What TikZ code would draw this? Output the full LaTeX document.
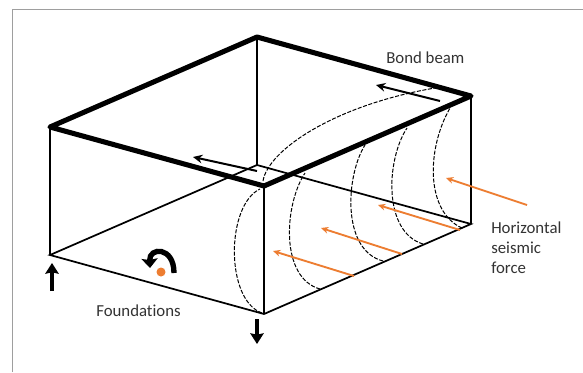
\documentclass[tikz,border=0pt]{standalone}
\usepackage{fontspec}
\setmainfont[Ligatures=CommonOff]{Carlito}
\usetikzlibrary{arrows.meta}
\definecolor{orangeF}{HTML}{ED7D31}
\tikzset{
  x=0.75pt,y=-0.75pt,
  wall/.style={black,line width=1.3pt},
  beam/.style={black,line width=3.8pt,line join=round},
  crack/.style={black,line width=0.75pt,dash pattern=on 3pt off 1.2pt},
  motion/.style={black,line width=1.5pt,-{Stealth[length=7pt,width=6.5pt]}},
  force/.style={orangeF,line width=1.4pt,-{Stealth[length=5.5pt,width=5pt]}},
  lift/.style={black,line width=3pt,-{Stealth[length=8pt,width=10pt,inset=1pt]}},
  lbl/.style={font=\fontsize{12.6pt}{15pt}\selectfont,text=black!80,inner sep=0pt,align=left,anchor=west}
}
\begin{document}
\begin{tikzpicture}
\useasboundingbox (0,0) rectangle (583,372);
\fill[white] (0,0) rectangle (583,372);
\draw[black!38,line width=1pt] (12.5,372) -- (12.5,9.5) -- (583,9.5);
\coordinate (tl) at (50,127); \coordinate (tb) at (257,37);
\coordinate (tr) at (471,96); \coordinate (tf) at (264,186);
\coordinate (bl) at (50,255); \coordinate (bb) at (257,165);
\coordinate (br) at (471,224); \coordinate (bf) at (264,314);
% walls
\draw[wall] (tl)--(bl) (tb)--(bb) (tr)--(br) (tf)--(bf);
\draw[wall] (bl)--(bb)--(br)--(bf)--cycle;
% cracks
\draw[crack] (262,313) .. controls (225,300) and (226,205) .. (260,189);
\draw[crack] (263,181) .. controls (268,150) and (335,105) .. (435,88);
\draw[crack] (320,289) .. controls (280,278) and (284,205) .. (305,173);
\draw[crack] (383,261) .. controls (341,250) and (346,175) .. (365,145);
\draw[crack] (423,244) .. controls (383,232) and (386,160) .. (407,128);
\draw[crack] (462,228) .. controls (426,212) and (426,150) .. (450,108);
% beam
\draw[beam] (tl)--(tb)--(tr)--(tf)--cycle;
% motion arrows
\coordinate (m1s) at (440,101); \coordinate (m1e) at (376,85);
\coordinate (m2s) at (257,171); \coordinate (m2e) at (193,157);
\draw[motion] (m1s)--(m1e);
\draw[motion] (m2s)--(m2e);
% seismic arrows
\coordinate (f1s) at (527,205); \coordinate (f1e) at (446,178);
\coordinate (f2s) at (460,230); \coordinate (f2e) at (378,205);
\coordinate (f3s) at (402,254); \coordinate (f3e) at (321,228);
\coordinate (f4s) at (354,276); \coordinate (f4e) at (273,251);
\draw[force] (f1s)--(f1e);
\draw[force] (f2s)--(f2e);
\draw[force] (f3s)--(f3e);
\draw[force] (f4s)--(f4e);
% vertical arrows
\coordinate (u1) at (52,291); \coordinate (u2) at (52,263);
\coordinate (d1) at (257,319); \coordinate (d2) at (257,344);
\draw[lift] (u1)--(u2);
\draw[lift] (d1)--(d2);
% rotation
\fill[orangeF] (161,272) circle (4.5);
\draw[black,line width=4pt,-{Stealth[length=7pt,width=12pt,inset=1pt]}] (174,273) .. controls (174,246) and (149,247) .. (150,268);
% labels
\node[lbl] (bond) at (386,58) {Bond beam};
\node[lbl] (found) at (96,311) {Foundations};
\node[lbl,anchor=north west] (hsf) at (491,222) {Horizontal\\seismic\\force};
\end{tikzpicture}
\end{document}
